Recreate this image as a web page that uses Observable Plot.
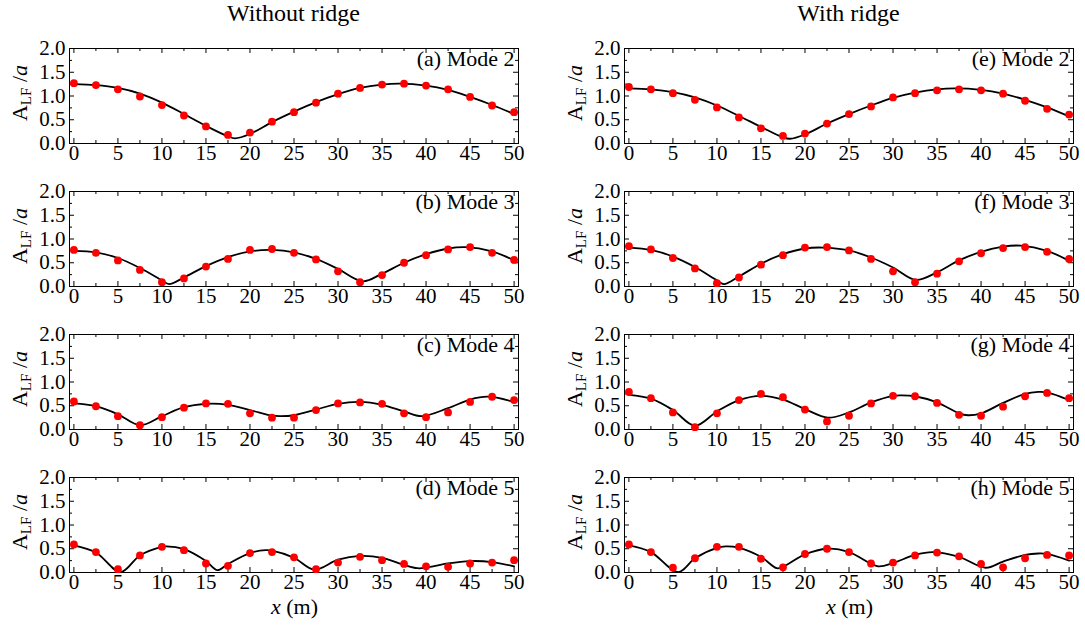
<!DOCTYPE html>
<html>
<head>
<meta charset="utf-8">
<script src="https://cdn.jsdelivr.net/npm/d3@7"></script>
<script src="https://cdn.jsdelivr.net/npm/@observablehq/plot@0.6"></script>
<style>
  body { margin: 0; background: #fff; }
  #fig { position: relative; width: 1085px; height: 630px; background: #fff;
         font-family: "Liberation Serif", "Times New Roman", serif; color: #000; }
  .abs { position: absolute; white-space: nowrap; line-height: 1.15; }
  .col-title { font-size: 24px; transform: translateX(-50%); }
  .xlab { font-size: 22px; transform: translateX(-50%); }
  .ylab { font-size: 22px; line-height: 1; transform: translate(-50%, -50%) rotate(-90deg); }
  .ylab .sub { font-size: 15px; position: relative; top: 4px; }
  svg.panel { position: absolute; }
</style>
</head>
<body>
<div id="fig"></div>
<script>
// Gauge positions along the flume (m)
const gaugeX = [0, 2.5, 5, 7.5, 10, 12.5, 15, 17.5, 20, 22.5, 25, 27.5, 30, 32.5, 35, 37.5, 40, 42.5, 45, 47.5, 50];

const columnTitles = ["Without ridge", "With ridge"];
const panelLabels = [
  ["(a) Mode 2", "(b) Mode 3", "(c) Mode 4", "(d) Mode 5"],
  ["(e) Mode 2", "(f) Mode 3", "(g) Mode 4", "(h) Mode 5"]
];

const xTicks = [0, 5, 10, 15, 20, 25, 30, 35, 40, 45, 50];
const xMinorTicks = [2.5, 7.5, 12.5, 17.5, 22.5, 27.5, 32.5, 37.5, 42.5, 47.5];
const yTicks = [0, 0.5, 1.0, 1.5, 2.0];
const yMinorTicks = [0.25, 0.75, 1.25, 1.75];

// Measured amplitudes (red dots), one value per gauge
const measA = [1.27, 1.23, 1.14, 0.99, 0.81, 0.59, 0.36, 0.18, 0.23, 0.46, 0.66, 0.86, 1.05, 1.17, 1.24, 1.26, 1.22, 1.14, 0.98, 0.80, 0.66];
const measB = [0.77, 0.71, 0.55, 0.35, 0.09, 0.17, 0.42, 0.58, 0.77, 0.79, 0.71, 0.57, 0.32, 0.09, 0.24, 0.50, 0.66, 0.78, 0.83, 0.71, 0.56];
const measC = [0.59, 0.49, 0.28, 0.09, 0.26, 0.46, 0.55, 0.54, 0.34, 0.25, 0.25, 0.41, 0.55, 0.57, 0.54, 0.34, 0.26, 0.36, 0.58, 0.69, 0.62];
const measD = [0.59, 0.43, 0.07, 0.36, 0.54, 0.47, 0.19, 0.14, 0.41, 0.43, 0.32, 0.07, 0.21, 0.33, 0.26, 0.18, 0.13, 0.12, 0.19, 0.21, 0.26];
const measE = [1.19, 1.14, 1.06, 0.92, 0.76, 0.55, 0.32, 0.16, 0.21, 0.42, 0.62, 0.78, 0.97, 1.06, 1.12, 1.14, 1.12, 1.05, 0.90, 0.73, 0.61];
const measF = [0.85, 0.78, 0.60, 0.38, 0.07, 0.19, 0.46, 0.66, 0.82, 0.83, 0.76, 0.58, 0.32, 0.09, 0.27, 0.53, 0.70, 0.81, 0.83, 0.73, 0.58];
const measG = [0.79, 0.66, 0.36, 0.05, 0.34, 0.62, 0.75, 0.68, 0.42, 0.17, 0.29, 0.55, 0.71, 0.70, 0.56, 0.31, 0.29, 0.48, 0.70, 0.77, 0.66];
const measH = [0.59, 0.43, 0.10, 0.30, 0.54, 0.54, 0.29, 0.11, 0.39, 0.50, 0.43, 0.19, 0.21, 0.36, 0.42, 0.34, 0.18, 0.11, 0.30, 0.37, 0.36];

// Theoretical envelopes (black curves) as [x, A/a] samples
const theoryA = [[0,1.25],[2.5,1.23],[5,1.17],[7.5,1.05],[10,0.86],[12.5,0.62],[15,0.37],[17.5,0.15],[18.3,0.11],[20,0.20],[22.5,0.45],[25,0.67],[27.5,0.87],[30,1.04],[32.5,1.17],[35,1.24],[37,1.26],[40,1.22],[42.5,1.13],[45,0.98],[47.5,0.81],[50,0.62]];
const theoryB = [[0,0.75],[2.5,0.72],[5,0.60],[7.5,0.39],[10,0.13],[10.8,0.05],[12.5,0.19],[15,0.43],[17.5,0.62],[20,0.74],[22.5,0.77],[25,0.72],[27.5,0.58],[30,0.37],[32.8,0.11],[35,0.27],[37.5,0.50],[40,0.68],[42.5,0.80],[44.5,0.83],[47.5,0.74],[50,0.55]];
const theoryC = [[0,0.55],[2.5,0.49],[5,0.32],[7.5,0.09],[10,0.28],[12.5,0.47],[15,0.54],[17.5,0.52],[20,0.41],[22.5,0.29],[23.5,0.28],[25,0.30],[27.5,0.42],[30,0.54],[32.5,0.58],[35,0.52],[37.5,0.38],[39.5,0.28],[42.5,0.45],[45,0.63],[47,0.69],[50,0.58]];
const theoryD = [[0,0.57],[2.5,0.42],[5.3,0.01],[7.5,0.36],[10,0.54],[10.5,0.55],[12.5,0.49],[15,0.24],[16.3,0.05],[17.5,0.18],[20,0.41],[21.8,0.47],[22.5,0.46],[25,0.31],[27.3,0.06],[30,0.27],[32.5,0.35],[35,0.31],[37.5,0.16],[39,0.09],[40,0.10],[42.5,0.19],[45,0.24],[47.5,0.22],[50,0.13]];
const theoryE = [[0,1.16],[2.5,1.14],[5,1.08],[7.5,0.97],[10,0.80],[12.5,0.58],[15,0.35],[17.5,0.13],[18.3,0.10],[20,0.19],[22.5,0.42],[25,0.62],[27.5,0.80],[30,0.96],[32.5,1.07],[35,1.14],[37,1.16],[40,1.13],[42.5,1.05],[45,0.92],[47.5,0.76],[50,0.57]];
const theoryF = [[0,0.82],[2.5,0.77],[5,0.63],[7.5,0.41],[10,0.13],[10.8,0.05],[12.5,0.21],[15,0.48],[17.5,0.68],[20,0.80],[22,0.82],[25,0.76],[27.5,0.61],[30,0.40],[32.6,0.14],[35,0.30],[37.5,0.55],[40,0.73],[42.5,0.84],[44.5,0.86],[47.5,0.75],[50,0.54]];
const theoryG = [[0,0.73],[2.5,0.65],[5,0.41],[7.5,0.08],[10,0.38],[12.5,0.62],[15,0.71],[17.5,0.63],[20,0.43],[22.6,0.25],[25,0.36],[27.5,0.57],[30,0.71],[31,0.72],[32.5,0.70],[35,0.57],[37.5,0.34],[38.5,0.30],[40,0.34],[42.5,0.56],[45,0.75],[46.5,0.79],[47.5,0.78],[50,0.62]];
const theoryH = [[0,0.57],[2.5,0.43],[5.6,0.01],[7.5,0.30],[10,0.52],[11,0.55],[12.5,0.52],[15,0.33],[16.8,0.09],[17.5,0.12],[20,0.38],[22.5,0.50],[25,0.43],[28.3,0.13],[30,0.20],[32.5,0.37],[34.5,0.43],[37.5,0.33],[40.5,0.10],[42.5,0.23],[45,0.37],[46.5,0.40],[47.5,0.39],[50,0.25]];

const measured = [[measA, measB, measC, measD], [measE, measF, measG, measH]];
const theory = [[theoryA, theoryB, theoryC, theoryD], [theoryE, theoryF, theoryG, theoryH]];

// Layout (px)
const colLeft = [0, 555];
const rowTop = [40, 183, 326, 469];
const W = 530, H = 128, mL = 69, mR = 12, mT = 8, mB = 25;
const xDom = [-0.5, 50.5], yDom = [0, 2];
const font = '"Liberation Serif", "Times New Roman", serif';

// Inward tick lengths expressed in data units
const plotW = W - mL - mR, plotH = H - mT - mB;
const pxX = (xDom[1] - xDom[0]) / plotW, pxY = (yDom[1] - yDom[0]) / plotH;
const majLen = 5, minLen = 3;

function panel(label, meas, curve) {
  const dots = gaugeX.map((x, i) => ({x, a: meas[i]}));
  const line = curve.map(([x, a]) => ({x, a}));
  return Plot.plot({
    width: W, height: H,
    marginLeft: mL, marginRight: mR, marginTop: mT, marginBottom: mB,
    style: {fontFamily: font, fontSize: "21px", color: "black", background: "transparent", overflow: "visible"},
    x: {domain: xDom, label: null},
    y: {domain: yDom, label: null},
    marks: [
      // inward ticks on all four sides
      Plot.ruleX(xTicks, {x: d => d, y1: yDom[0], y2: yDom[0] + majLen * pxY, stroke: "black"}),
      Plot.ruleX(xTicks, {x: d => d, y1: yDom[1], y2: yDom[1] - majLen * pxY, stroke: "black"}),
      Plot.ruleX(xMinorTicks, {x: d => d, y1: yDom[0], y2: yDom[0] + minLen * pxY, stroke: "black"}),
      Plot.ruleX(xMinorTicks, {x: d => d, y1: yDom[1], y2: yDom[1] - minLen * pxY, stroke: "black"}),
      Plot.ruleY(yTicks, {y: d => d, x1: xDom[0], x2: xDom[0] + majLen * pxX, stroke: "black"}),
      Plot.ruleY(yTicks, {y: d => d, x1: xDom[1], x2: xDom[1] - majLen * pxX, stroke: "black"}),
      Plot.ruleY(yMinorTicks, {y: d => d, x1: xDom[0], x2: xDom[0] + minLen * pxX, stroke: "black"}),
      Plot.ruleY(yMinorTicks, {y: d => d, x1: xDom[1], x2: xDom[1] - minLen * pxX, stroke: "black"}),
      Plot.axisX(xTicks, {tickSize: 0, tickPadding: 2, label: null}),
      Plot.axisY(yTicks, {tickSize: 0, tickPadding: 4, label: null, tickFormat: d3.format(".1f")}),
      Plot.frame({stroke: "black", strokeWidth: 1}),
      Plot.line(line, {x: "x", y: "a", curve: "catmull-rom", stroke: "black", strokeWidth: 1.8, clip: true}),
      Plot.dot(dots, {x: "x", y: "a", r: 3.9, fill: "#ff0000"}),
      Plot.text([label], {frameAnchor: "top-right", textAnchor: "end", lineAnchor: "top", dx: -4, dy: 2, fontSize: 22})
    ]
  });
}

const fig = document.getElementById("fig");

columnTitles.forEach((t, c) => {
  const d = document.createElement("div");
  d.className = "abs col-title";
  d.textContent = t;
  d.style.left = (colLeft[c] + mL + plotW / 2) + "px";
  d.style.top = "0px";
  fig.appendChild(d);
});

for (let c = 0; c < 2; c++) {
  for (let r = 0; r < 4; r++) {
    const svg = panel(panelLabels[c][r], measured[c][r], theory[c][r]);
    svg.classList.add("panel");
    svg.style.left = colLeft[c] + "px";
    svg.style.top = rowTop[r] + "px";
    fig.appendChild(svg);

    const yl = document.createElement("div");
    yl.className = "abs ylab";
    yl.innerHTML = 'A<span class="sub">LF</span> /<i>a</i>';
    yl.style.left = (colLeft[c] + 20) + "px";
    yl.style.top = (rowTop[r] + mT + plotH / 2 - 3) + "px";
    fig.appendChild(yl);
  }
  const xl = document.createElement("div");
  xl.className = "abs xlab";
  xl.innerHTML = '<i>x</i> (m)';
  xl.style.left = (colLeft[c] + mL + plotW / 2 + 1) + "px";
  xl.style.top = "594px";
  fig.appendChild(xl);
}
</script>
</body>
</html>
